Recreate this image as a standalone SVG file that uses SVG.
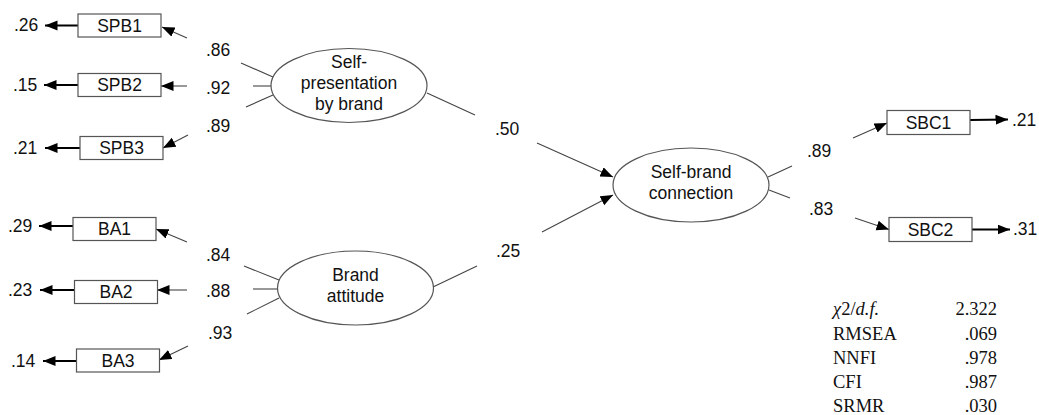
<svg xmlns="http://www.w3.org/2000/svg" width="1039" height="415" viewBox="0 0 1039 415">
  <style>
    .box { fill: #fff; stroke: #555; stroke-width: 1.2; }
    .lat { fill: #fff; stroke: #555; stroke-width: 1.2; }
    .t { font-family: "Liberation Sans", Arial, sans-serif; font-size: 17.5px; fill: #111; }
    .c { text-anchor: middle; }
    .load { stroke: #444; stroke-width: 1.1; fill: none; }
    .res { stroke: #000; stroke-width: 2; fill: none; }
    .fit { font-family: "Liberation Serif", "Times New Roman", serif; font-size: 18.5px; fill: #111; }
    .r { text-anchor: end; }
    .i { font-style: italic; }
  </style>
  <defs>
    <marker id="arr" markerUnits="userSpaceOnUse" markerWidth="14" markerHeight="11" refX="12.5" refY="5" orient="auto">
      <path d="M0,0 L12.5,5 L0,10 z" fill="#000"/>
    </marker>
  </defs>

  <rect width="1039" height="415" fill="#fff"/>

  <!-- connectors -->
  <g id="connectors">
    <!-- residual arrows -->
    <line class="res" x1="78" y1="25.5" x2="45" y2="25.5" marker-end="url(#arr)"/>
    <line class="res" x1="78" y1="85" x2="44" y2="85" marker-end="url(#arr)"/>
    <line class="res" x1="80" y1="148" x2="45" y2="148" marker-end="url(#arr)"/>
    <line class="res" x1="73" y1="226" x2="39" y2="226" marker-end="url(#arr)"/>
    <line class="res" x1="74" y1="290" x2="40" y2="290" marker-end="url(#arr)"/>
    <line class="res" x1="76" y1="361" x2="43" y2="361" marker-end="url(#arr)"/>
    <line class="res" x1="970" y1="120" x2="1008" y2="119.5" marker-end="url(#arr)"/>
    <line class="res" x1="972" y1="229.5" x2="1010" y2="229.5" marker-end="url(#arr)"/>

    <!-- Self-presentation by brand loadings -->
    <line class="load" x1="241" y1="63" x2="273" y2="77"/>
    <line class="load" x1="253" y1="86" x2="273" y2="86"/>
    <line class="load" x1="246" y1="107" x2="273" y2="95"/>
    <line class="load" x1="187" y1="38" x2="162" y2="27" marker-end="url(#arr)"/>
    <line class="load" x1="187" y1="86" x2="161" y2="86" marker-end="url(#arr)"/>
    <line class="load" x1="188" y1="135" x2="163" y2="148" marker-end="url(#arr)"/>

    <!-- Brand attitude loadings -->
    <line class="load" x1="244" y1="266" x2="279" y2="280"/>
    <line class="load" x1="253" y1="289" x2="278" y2="289"/>
    <line class="load" x1="247" y1="314" x2="279" y2="298"/>
    <line class="load" x1="187" y1="242" x2="156" y2="229" marker-end="url(#arr)"/>
    <line class="load" x1="187" y1="290" x2="157" y2="290" marker-end="url(#arr)"/>
    <line class="load" x1="188" y1="346" x2="159" y2="360" marker-end="url(#arr)"/>

    <!-- structural paths -->
    <line class="load" x1="427" y1="93" x2="475" y2="115"/>
    <line class="load" x1="537" y1="143" x2="613" y2="177" marker-end="url(#arr)"/>
    <line class="load" x1="433" y1="287" x2="477" y2="266"/>
    <line class="load" x1="542" y1="232" x2="613" y2="195" marker-end="url(#arr)"/>

    <!-- Self-brand connection loadings -->
    <line class="load" x1="768" y1="177" x2="792" y2="166"/>
    <line class="load" x1="769" y1="190" x2="790" y2="198"/>
    <line class="load" x1="853" y1="138" x2="887" y2="123" marker-end="url(#arr)"/>
    <line class="load" x1="855" y1="218" x2="889" y2="229.5" marker-end="url(#arr)"/>
  </g>

  <!-- loading labels -->
  <g id="coefficients" class="t">
    <text x="14" y="31">.26</text>
    <text x="13" y="91">.15</text>
    <text x="13" y="154">.21</text>
    <text x="8" y="232">.29</text>
    <text x="8" y="296">.23</text>
    <text x="11" y="367">.14</text>
    <text x="206" y="56">.86</text>
    <text x="206" y="94">.92</text>
    <text x="206" y="132">.89</text>
    <text x="206" y="261">.84</text>
    <text x="206" y="297">.88</text>
    <text x="208" y="339">.93</text>
    <text x="495" y="135">.50</text>
    <text x="496" y="257">.25</text>
    <text x="807" y="157">.89</text>
    <text x="809" y="215">.83</text>
    <text x="1012" y="126">.21</text>
    <text x="1013" y="235">.31</text>
  </g>

  <!-- observed indicators -->
  <g id="SPB1"><rect class="box" x="78" y="14" width="83" height="23"/><text class="t c" x="119.5" y="31.5">SPB1</text></g>
  <g id="SPB2"><rect class="box" x="78" y="73.5" width="83" height="23"/><text class="t c" x="119.5" y="91">SPB2</text></g>
  <g id="SPB3"><rect class="box" x="80" y="136.5" width="83" height="23"/><text class="t c" x="121.5" y="154">SPB3</text></g>
  <g id="BA1"><rect class="box" x="73" y="217.5" width="83" height="23"/><text class="t c" x="114.5" y="235">BA1</text></g>
  <g id="BA2"><rect class="box" x="74.5" y="280.5" width="83" height="23"/><text class="t c" x="116" y="298">BA2</text></g>
  <g id="BA3"><rect class="box" x="76.5" y="349" width="83" height="23"/><text class="t c" x="118" y="366.5">BA3</text></g>
  <g id="SBC1"><rect class="box" x="887" y="110.5" width="83" height="24"/><text class="t c" x="928.5" y="128.5">SBC1</text></g>
  <g id="SBC2"><rect class="box" x="889" y="217.5" width="83" height="24"/><text class="t c" x="930.5" y="235.5">SBC2</text></g>

  <!-- latent constructs -->
  <g id="self-presentation">
    <ellipse class="lat" cx="349" cy="85.5" rx="78" ry="37"/>
    <text class="t c" x="349" y="68">Self-</text>
    <text class="t c" x="349" y="89">presentation</text>
    <text class="t c" x="349" y="110">by brand</text>
  </g>
  <g id="brand-attitude">
    <ellipse class="lat" cx="355.5" cy="288" rx="78" ry="37"/>
    <text class="t c" x="355.5" y="281">Brand</text>
    <text class="t c" x="355.5" y="302">attitude</text>
  </g>
  <g id="self-brand-connection">
    <ellipse class="lat" cx="691" cy="185" rx="78" ry="37"/>
    <text class="t c" x="691" y="178">Self-brand</text>
    <text class="t c" x="691" y="199">connection</text>
  </g>

  <!-- fit indices -->
  <g id="fit-indices" class="fit">
    <text x="833" y="315"><tspan class="i">χ</tspan>2/<tspan class="i">d.f.</tspan></text>
    <text class="r" x="997" y="315">2.322</text>
    <text x="833" y="339.5">RMSEA</text>
    <text class="r" x="997" y="339.5">.069</text>
    <text x="833" y="363.5">NNFI</text>
    <text class="r" x="997" y="363.5">.978</text>
    <text x="833" y="387.5">CFI</text>
    <text class="r" x="997" y="387.5">.987</text>
    <text x="833" y="412">SRMR</text>
    <text class="r" x="997" y="412">.030</text>
  </g>
</svg>
